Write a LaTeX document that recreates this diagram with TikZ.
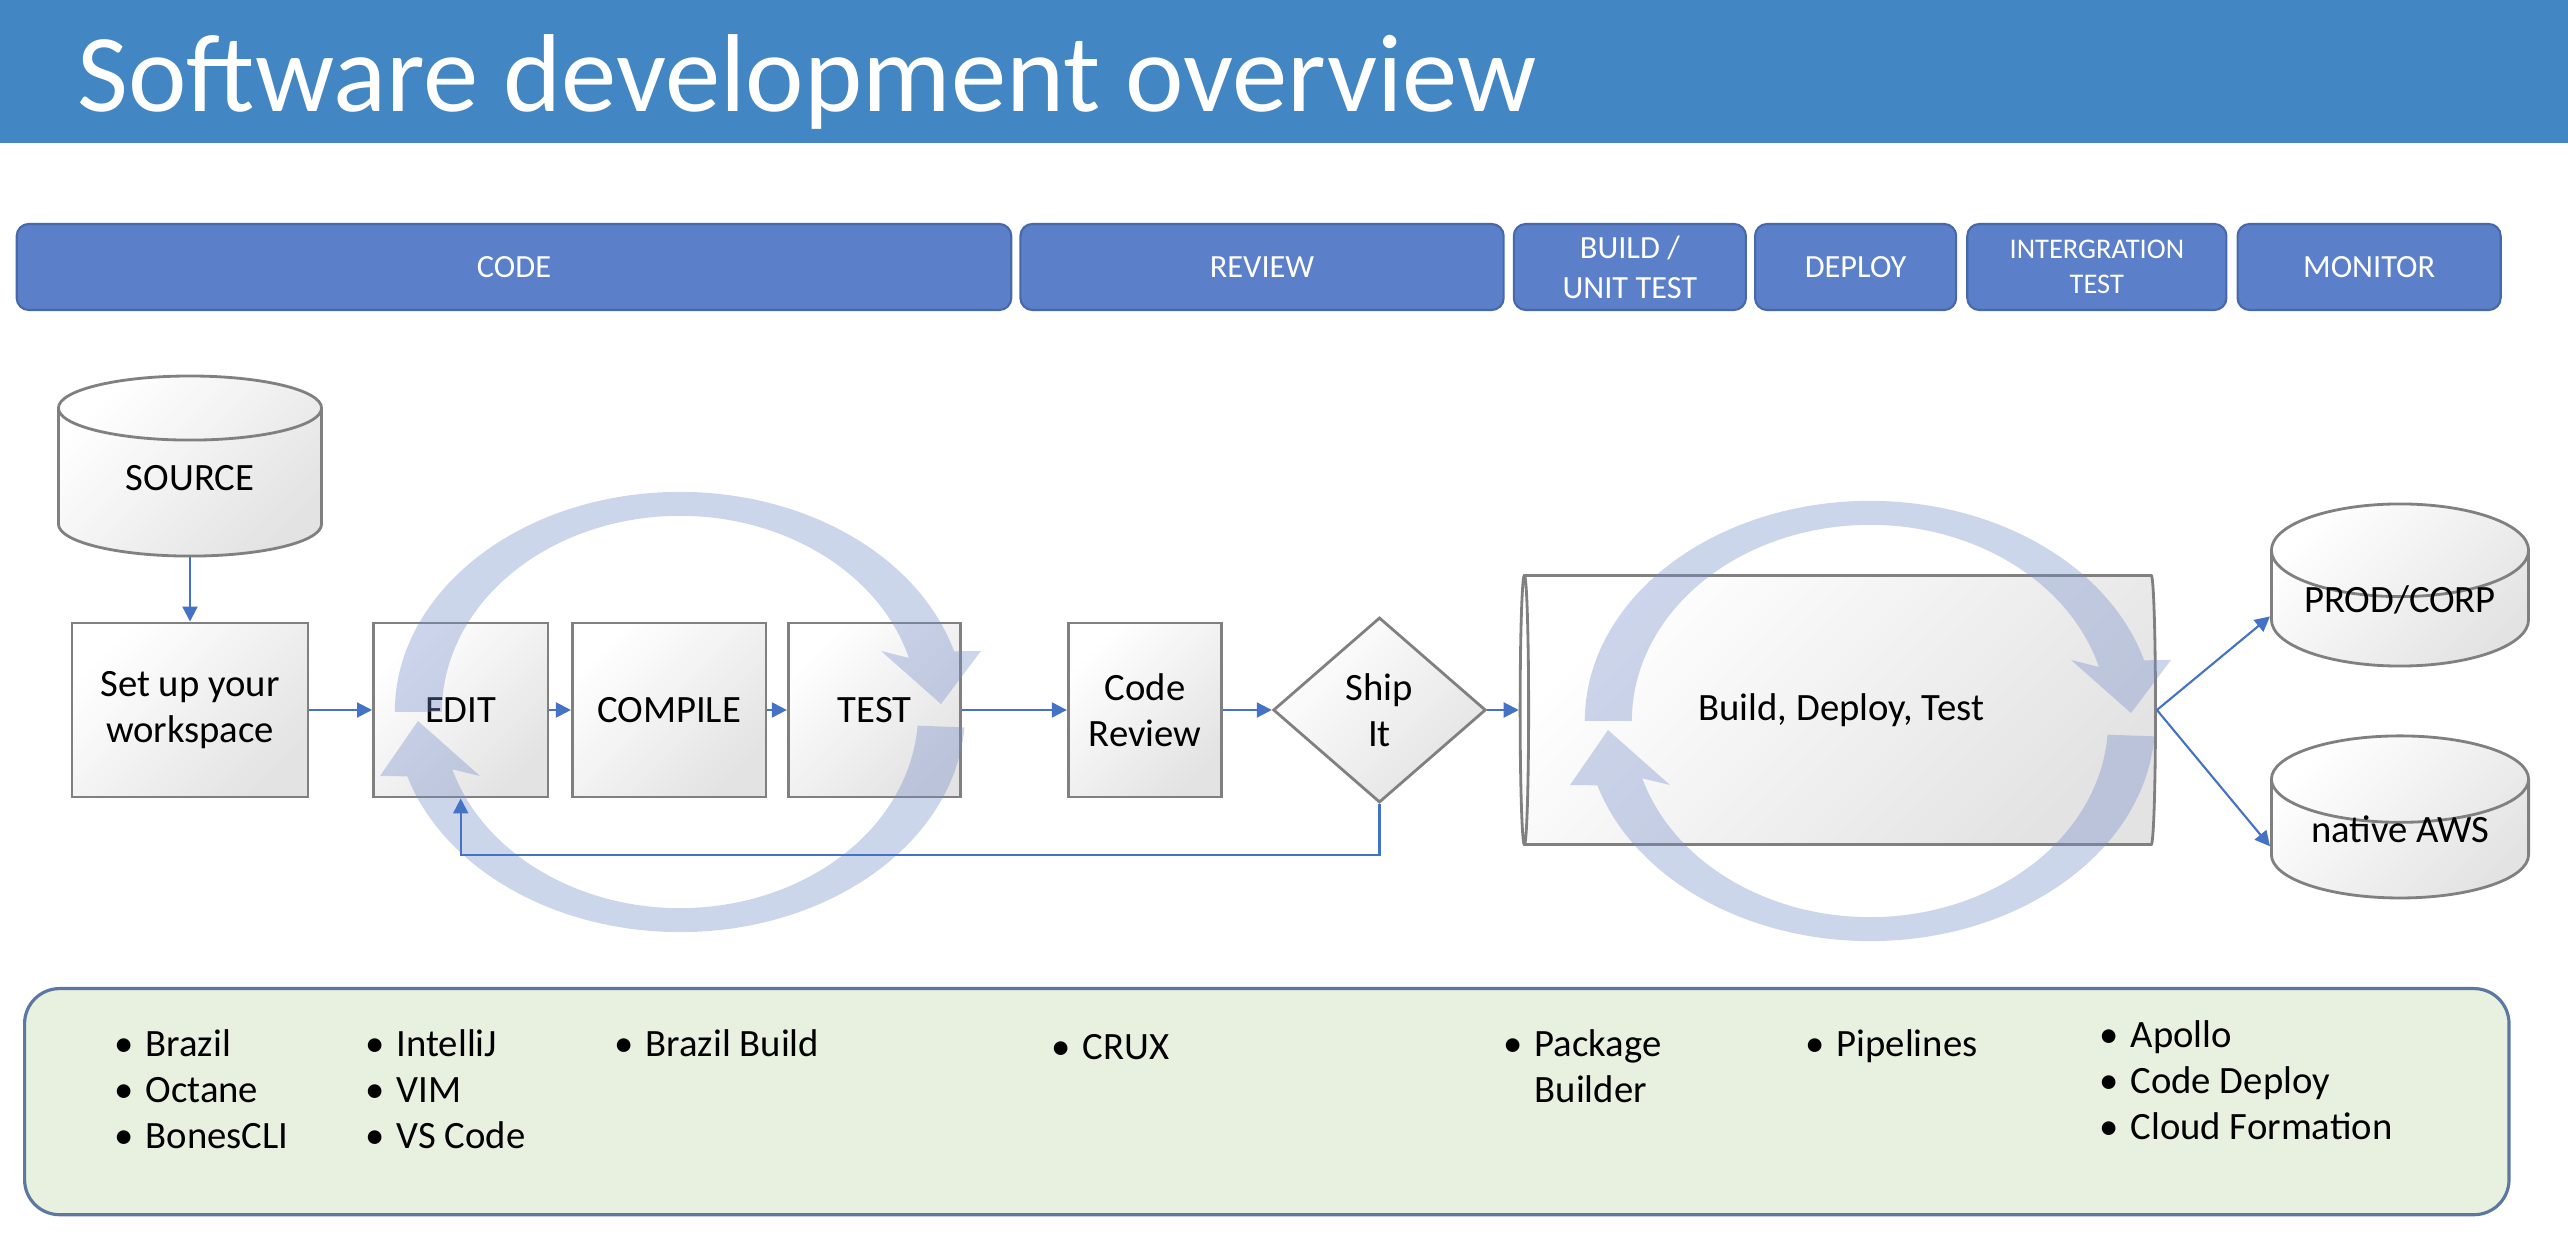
\documentclass[tikz,border=0pt]{standalone}
\usepackage{fontspec}
\setmainfont{Carlito}
\usepackage{xcolor}
\usetikzlibrary{shapes.geometric, positioning}
\usetikzlibrary{arrows.meta}
\tikzset{>={Triangle[width=1.5mm,length=1.5mm]}}
\definecolor{titleblue}{RGB}{66,134,196}
\definecolor{phaseblue}{RGB}{91,127,200}
\definecolor{phaseline}{RGB}{72,104,172}
\definecolor{linkblue}{RGB}{68,114,196}
\definecolor{boxline}{RGB}{128,128,128}
\definecolor{ringblue}{RGB}{115,140,200}
\definecolor{panelgreen}{RGB}{232,240,223}
\definecolor{panelline}{RGB}{92,120,160}
\newcommand{\itm}[1]{\makebox[8.8pt][l]{\textbullet}#1}

\begin{document}
\begin{tikzpicture}[x=0.01cm, y=-0.01cm, box/.style={rectangle, draw=boxline, line width=0.8pt, left color=white, right color=black!11, shading angle=45, minimum height=1.74cm, inner sep=2pt, align=center, font=\fontsize{11}{13.2}\selectfont}, cyl/.style={cylinder, shape border rotate=90, aspect=0.45, draw=boxline, line width=0.8pt, left color=white, right color=black!11, shading angle=45, inner sep=2pt, align=center, font=\fontsize{11}{13.2}\selectfont}, decision/.style={diamond, aspect=1.14, draw=boxline, line width=0.8pt, left color=white, right color=black!11, shading angle=45, minimum width=2.125cm, minimum height=1.85cm, inner sep=0pt, align=center, font=\fontsize{11}{13.2}\selectfont}, phase/.style={rectangle, rounded corners=0.12cm, draw=phaseline, line width=0.6pt, fill=phaseblue, text=white, minimum height=0.86cm, inner sep=1pt, align=center, font=\fontsize{9.2}{11.4}\selectfont}, panel/.style={rectangle, rounded corners=0.35cm, draw=panelline, line width=0.9pt, fill=panelgreen}, itemlist/.style={anchor=base west, align=left, inner sep=0pt, font=\fontsize{11}{13.1}\selectfont}, ringarrow/.style={fill=ringblue, fill opacity=0.36}, link/.style={draw=linkblue, line width=0.6pt}]

    \useasboundingbox (0,0) rectangle (2568,1240);
    \fill[titleblue] (0,0) rectangle (2568,143);
    \node[anchor=base west, inner sep=0pt, text=white, font=\fontsize{31.5}{36}\selectfont](title) at (77,112) {Software development overview};

    %Phases
    \node[phase, minimum width=9.94cm](code) at (514,267) {CODE};
    \node[phase, minimum width=4.83cm](review)[right=0.07cm of code]{REVIEW};
    \node[phase, minimum width=2.32cm](build_phase)[right=0.08cm of review]{BUILD /\\UNIT TEST};
    \node[phase, minimum width=2.01cm](deploy)[right=0.07cm of build_phase]{DEPLOY};
    \node[phase, minimum width=2.59cm, font=\fontsize{8.1}{10}\selectfont](integration)[right=0.09cm of deploy]{INTERGRATION\\TEST};
    \node[phase, minimum width=2.63cm](monitor)[right=0.09cm of integration]{MONITOR};

    %Nodes
    \node[box, minimum width=2.36cm](setup) at (190,710) {Set up your\\workspace};
    \node[cyl, minimum width=2.63cm, minimum height=1.80cm, text height=8pt, text depth=6.6pt](source)[above=0.64cm of setup]{SOURCE};
    \node[box, minimum width=1.745cm](edit)[right=0.625cm of setup]{EDIT};
    \node[box, minimum width=1.935cm](compile)[right=0.215cm of edit]{COMPILE};
    \node[box, minimum width=1.725cm](test)[right=0.195cm of compile]{TEST};
    \node[box, minimum width=1.535cm](code_review)[right=1.045cm of test]{Code\\Review};
    \node[decision](ship)[right=0.485cm of code_review]{Ship\\It};
    \node[cyl, shape border rotate=180, aspect=0.18, minimum width=2.69cm, minimum height=6.35cm](pipeline)[right=0.315cm of ship]{Build, Deploy, Test};
    \node[cyl, minimum width=2.57cm, minimum height=1.62cm, anchor=shape center](prod) at (2400,585) {\raisebox{1pt}[0pt][0pt]{PROD/CORP}};
    \node[cyl, minimum width=2.57cm, minimum height=1.62cm](aws)[below=0.67cm of prod]{\raisebox{1pt}[0pt][0pt]{native AWS}};

    %Tools
    \node[panel, minimum width=24.83cm, minimum height=2.26cm, anchor=north west](tools) at (23,987) {};
    \node[itemlist](tools_repo) at (114,1149) {\itm{Brazil}\\\itm{Octane}\\\itm{BonesCLI}};
    \node[itemlist](tools_editor) at (365,1149) {\itm{IntelliJ}\\\itm{VIM}\\\itm{VS Code}};
    \node[itemlist](tools_build) at (614,1057) {\itm{Brazil Build}};
    \node[itemlist](tools_review) at (1051,1060) {\itm{CRUX}};
    \node[itemlist](tools_package) at (1503,1103) {\itm{Package}\\\makebox[8.8pt]{}Builder};
    \node[itemlist](tools_pipeline) at (1805,1057) {\itm{Pipelines}};
    \node[itemlist](tools_deploy) at (2099,1140) {\itm{Apollo}\\\itm{Code Deploy}\\\itm{Cloud Formation}};

    %Cycles
    \foreach \cx/\cy in {680/712, 1870/721}{
        \begin{scope}[shift={(\cx,\cy)}, y=0.01cm]
            \fill[ringarrow] (180:2.85cm and 2.2cm) arc[start angle=180, end angle=16, x radius=2.85cm, y radius=2.2cm] -- (301,61) -- (261,8) -- (201,61) -- (16:2.38cm and 1.96cm) arc[start angle=16, end angle=180, x radius=2.38cm, y radius=1.96cm] -- cycle;
            \fill[ringarrow] (-4:2.85cm and 2.2cm) arc[start angle=-4, end angle=-163, x radius=2.85cm, y radius=2.2cm] -- (-300,-64) -- (-262,-9) -- (-200,-64) -- (-163:2.38cm and 1.96cm) arc[start angle=-163, end angle=-4, x radius=2.38cm, y radius=1.96cm] -- cycle;
        \end{scope}
    }

    %Lines
    \draw[link,->] (source) -- (setup);
    \draw[link,->] (setup) -- (edit);
    \draw[link,->] (edit) -- (compile);
    \draw[link,->] (compile) -- (test);
    \draw[link,->] (test) -- (code_review);
    \draw[link,->] (code_review) -- (ship);
    \draw[link,->] (ship) -- (pipeline);
    \draw[link,->] (pipeline.east) -- (prod.west);
    \draw[link,->] (pipeline.east) -- (aws.west);
    \draw[link,->] (ship.south) -- ++(0,51) -| (edit.south);

\end{tikzpicture}
\end{document}
